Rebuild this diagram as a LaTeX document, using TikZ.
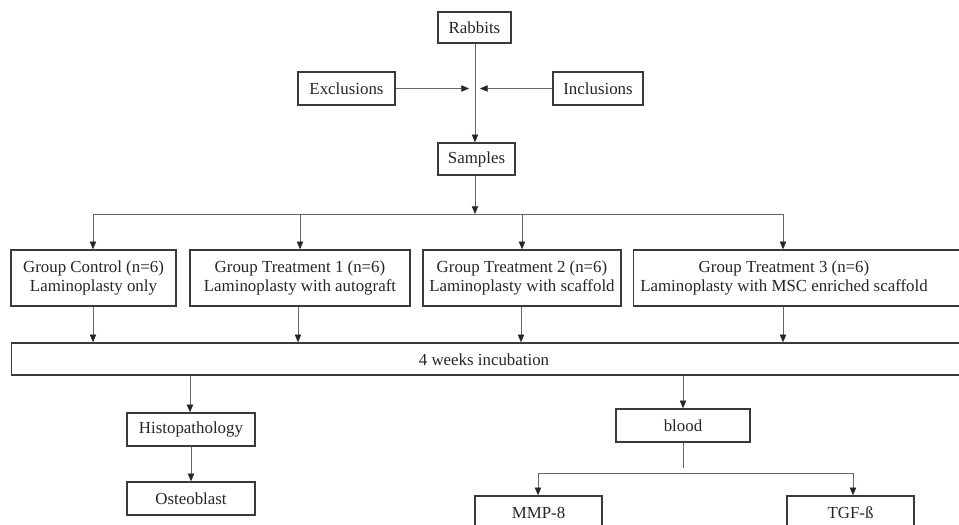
\documentclass[tikz,border=0pt]{standalone}
\usepackage{fontspec}
\setmainfont{Liberation Serif}
\usepackage{xcolor}
\usetikzlibrary{arrows.meta,positioning,calc}

\definecolor{boxline}{HTML}{3A3A3A}
\definecolor{linkline}{HTML}{666666}

\begin{document}
\begin{tikzpicture}[x=0.025cm, y=-0.025cm,
    box/.style={draw=boxline, line width=1pt, inner sep=2pt, align=center,
                font=\fontsize{12}{14}\selectfont, text=black!85},
    label/.style={inner sep=0pt, align=center, font=\fontsize{12}{14}\selectfont, text=black!85},
    link/.style={draw=linkline, line width=0.6pt},
    arr/.style={link, -{Triangle[length=5.5pt,width=4.5pt,color=black!85]}}]
        \clip (0,0) rectangle (959,525);
        \fill[white] (0,0) rectangle (959,525);
        % top part
        \node[box, minimum width=1.825cm, minimum height=0.775cm] (rabbits) at (474.5,27.5) {Rabbits};
        \node[box, minimum width=2.425cm, minimum height=0.825cm] (excl) at (346.5,88.5) {Exclusions};
        \node[box, minimum width=2.25cm, minimum height=0.825cm] (incl) at (598,88.5) {Inclusions};
        \node[box, minimum width=1.925cm, minimum height=0.8cm] (samples) at (476.5,159) {Samples};
        \coordinate (midL) at (469,88.5);
        \coordinate (midR) at (480,88.5);
        \draw[arr] (rabbits.south -| 475,0) -- (samples.north -| 475,0);
        \draw[arr] (excl.east) -- (midL);
        \draw[arr] (incl.west) -- (midR);
        % groups
        \node[box, minimum width=4.125cm, minimum height=1.4cm] (ctrl) at (93.5,278) {Group Control (n=6)\\Laminoplasty only};
        \node[box, minimum width=5.5cm, minimum height=1.4cm] (treatA) at (300,278) {Group Treatment 1 (n=6)\\Laminoplasty with autograft};
        \node[box, minimum width=4.95cm, minimum height=1.4cm] (treatB) at (522,278) {Group Treatment 2 (n=6)\\Laminoplasty with scaffold};
        \node[box, minimum width=8.55cm, minimum height=1.4cm, anchor=west] (treatC) at (633,278) {};
        \node[label] (treatCtxt) at (784,278) {Group Treatment 3 (n=6)\\Laminoplasty with MSC enriched scaffold};
        \coordinate (split) at (475,214);
        \draw[arr] (samples.south -| 475,0) -- (split);
        \draw[link] (93,214) -- (783,214);
        \foreach \gx/\grp in {93/ctrl, 300/treatA, 522/treatB, 783/treatC}
            \draw[arr] (\gx,214) -- (\grp.north -| \gx,0);
        % incubation
        \node[box, minimum width=24.1cm, minimum height=0.8cm, anchor=west] (incub) at (11,359) {};
        \node[label] (incubtxt) at (484,359.5) {4 weeks incubation};
        \foreach \gx/\grp in {93/ctrl, 298/treatA, 521/treatB, 783/treatC}
            \draw[arr] (\grp.south -| \gx,0) -- (incub.north -| \gx,0);
        % outcomes
        \node[box, minimum width=3.2cm, minimum height=0.825cm] (histo) at (191,429.5) {Histopathology};
        \node[box, minimum width=3.2cm, minimum height=0.825cm] (osteo) at (191,498.5) {Osteoblast};
        \node[box, minimum width=3.35cm, minimum height=0.825cm] (blood) at (683,425.5) {blood};
        \node[box, minimum width=3.175cm, minimum height=0.825cm] (mmp) at (538.5,512.5) {MMP-8};
        \node[box, minimum width=3.175cm, minimum height=0.825cm] (tgf) at (850.5,512.5) {TGF-ß};
        \draw[arr] (incub.south -| 190,0) -- (histo.north -| 190,0);
        \draw[arr] (incub.south -| blood.north) -- (blood.north);
        \draw[arr] (histo) -- (osteo);
        \coordinate (bloodend) at (683,468);
        \draw[link] (blood.south) -- (bloodend);
        \draw[link] (538,473) -- (853,473);
        \draw[arr] (538,473) -- (mmp.north -| 538,0);
        \draw[arr] (853,473) -- (tgf.north -| 853,0);
\end{tikzpicture}
\end{document}
